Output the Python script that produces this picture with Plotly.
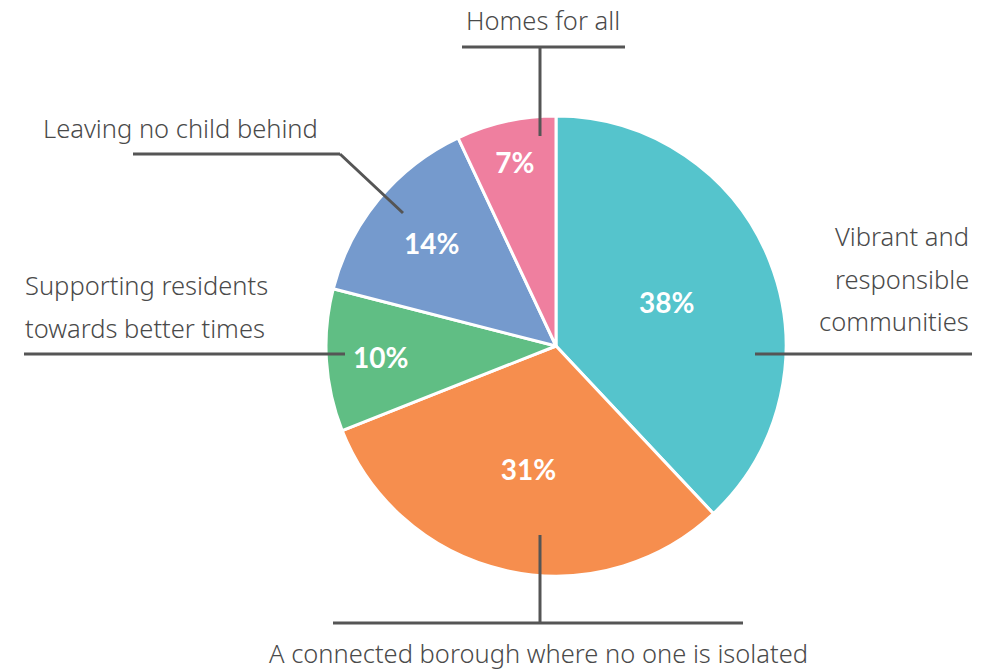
import plotly.graph_objects as go

categories = ["Vibrant and<br>responsible<br>communities",
              "A connected borough where no one is isolated",
              "Supporting residents<br>towards better times",
              "Leaving no child behind",
              "Homes for all"]
values = [38, 31, 10, 14, 7]
colors = ["#55C4CC", "#F68E4E", "#60BE84", "#759ACD", "#EF7F9F"]

W, H = 988, 670
cx, cy, R = 556, 346, 230

def px(x):
    return x / W

def py(y):
    return 1 - y / H

fig = go.Figure(go.Pie(
    labels=categories,
    values=values,
    sort=False,
    direction="clockwise",
    rotation=0,
    marker=dict(colors=colors, line=dict(color="white", width=3)),
    texttemplate="<b>%{value}%</b>",
    textposition="inside",
    insidetextorientation="horizontal",
    insidetextfont=dict(color="white", size=28, family="Lato"),
    showlegend=False,
    hoverinfo="label+percent",
    domain=dict(x=[px(cx - R), px(cx + R)], y=[py(cy + R), py(cy - R)]),
))

line_col = "#555555"
leaders = [
    [(755, 354), (972, 354)],
    [(333, 623), (743, 623)], [(540, 535), (540, 623)],
    [(24, 354), (345, 354)],
    [(133, 154), (340, 154)], [(340, 154), (403, 213)],
    [(462, 47), (625, 47)], [(540, 47), (540, 136)],
]
shapes = []
for (x0, y0), (x1, y1) in leaders:
    shapes.append(dict(type="line", xref="paper", yref="paper",
                       x0=px(x0), y0=py(y0), x1=px(x1), y1=py(y1),
                       line=dict(color=line_col, width=3)))

placements = [
    (971, 236, "right"),
    (538, 653, "center"),
    (23, 285, "left"),
    (41, 128, "left"),
    (543, 20, "center"),
]
annotations = []
for lab, (ax, ay, xa) in zip(categories, placements):
    for i, ln in enumerate(lab.split("<br>")):
        annotations.append(dict(
            text=ln, x=px(ax), y=py(ay + i * 42.5), xref="paper", yref="paper",
            xanchor=xa, yanchor="middle", showarrow=False,
            font=dict(family="Noto Sans", size=25.5, weight=300, color="#4a4a4a")))

fig.update_layout(
    width=W, height=H,
    margin=dict(l=0, r=0, t=0, b=0),
    paper_bgcolor="white",
    plot_bgcolor="white",
    shapes=shapes,
    annotations=annotations,
)

fig.write_html("out.html", config={"displayModeBar": False},
               post_script="document.body.style.margin='0px';")
